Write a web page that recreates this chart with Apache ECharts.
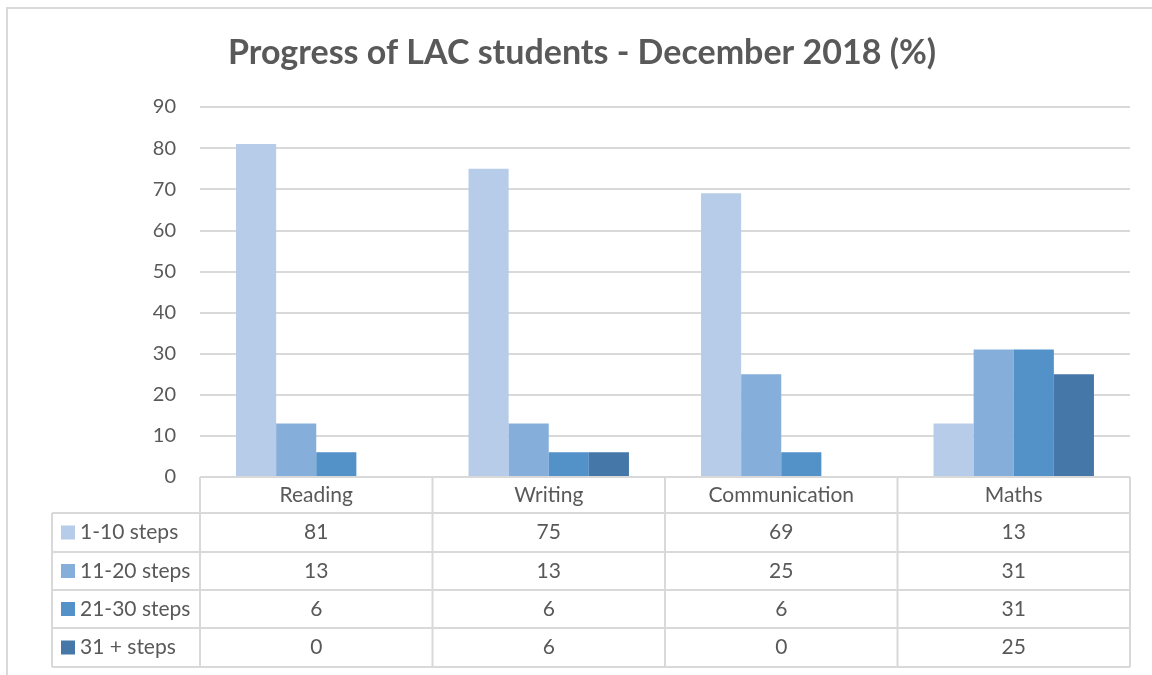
<!DOCTYPE html>
<html>
<head>
    <meta charset="utf-8">
    <script src="https://cdn.jsdelivr.net/npm/echarts@6/dist/echarts.min.js"></script>
    <style>
        body { margin: 0; background: #fff; }
    </style>
</head>
<body>
<div id="main" style="width: 1152px;height: 675px;"></div>
<script type="text/javascript">
    // data
    var categories = ['Reading', 'Writing', 'Communication', 'Maths'];
    var seriesNames = ['1-10 steps', '11-20 steps', '21-30 steps', '31 + steps'];
    var steps1to10 = [81, 75, 69, 13];
    var steps11to20 = [13, 13, 25, 31];
    var steps21to30 = [6, 6, 6, 31];
    var steps31plus = [0, 6, 0, 25];
    var colors = ['#b7cce8', '#85aedb', '#5391c9', '#4578a8'];

    var allSeries = [steps1to10, steps11to20, steps21to30, steps31plus];

    // layout
    var gridLeft = 200, gridRight = 1130, gridTop = 107, gridBottom = 477;
    var tableLeft = 52;
    var rowLines = [477, 513, 552, 590, 628, 667];
    var lineColor = '#d9d9d9';
    var textColor = '#595959';
    var fontFam = 'Lato, "Open Sans", sans-serif';
    var cellFont = '21px ' + fontFam;

    var myChart = echarts.init(document.getElementById('main'));

    var graphic = [];
    // outer chart area border
    graphic.push({
        type: 'rect', shape: {x: 7, y: 8, width: 1160, height: 700},
        style: {fill: null, stroke: lineColor, lineWidth: 2}, silent: true, z: -1
    });

    var catW = (gridRight - gridLeft) / categories.length;
    function hline(x1, x2, y) {
        graphic.push({type: 'line', shape: {x1: x1, y1: y, x2: x2, y2: y},
            style: {stroke: lineColor, lineWidth: 2}, z: 10});
    }
    function vline(x, y1, y2) {
        graphic.push({type: 'line', shape: {x1: x, y1: y1, x2: x, y2: y2},
            style: {stroke: lineColor, lineWidth: 2}, z: 10});
    }
    // table grid lines
    hline(gridLeft, gridRight, rowLines[0]);
    for (var r = 1; r < rowLines.length; r++) hline(tableLeft, gridRight, rowLines[r]);
    vline(tableLeft, rowLines[1], rowLines[rowLines.length - 1]);
    for (var c = 0; c <= categories.length; c++) {
        vline(gridLeft + c * catW, rowLines[0], rowLines[rowLines.length - 1]);
    }
    // header texts
    for (var c = 0; c < categories.length; c++) {
        graphic.push({type: 'text', x: gridLeft + (c + 0.5) * catW, y: (rowLines[0] + rowLines[1]) / 2,
            style: {text: categories[c], fill: textColor, font: cellFont,
                align: 'center', verticalAlign: 'middle'}});
    }
    // rows
    for (var s = 0; s < allSeries.length; s++) {
        var yc = (rowLines[s + 1] + rowLines[s + 2]) / 2;
        graphic.push({type: 'rect', shape: {x: 61, y: yc - 7, width: 14, height: 14},
            style: {fill: colors[s]}});
        graphic.push({type: 'text', x: 80, y: yc,
            style: {text: seriesNames[s], fill: textColor, font: cellFont,
                align: 'left', verticalAlign: 'middle'}});
        for (var c = 0; c < categories.length; c++) {
            graphic.push({type: 'text', x: gridLeft + (c + 0.5) * catW, y: yc,
                style: {text: String(allSeries[s][c]), fill: textColor, font: cellFont,
                    align: 'center', verticalAlign: 'middle'}});
        }
    }

    var series = [];
    for (var s = 0; s < allSeries.length; s++) {
        series.push({
            name: seriesNames[s],
            type: 'bar',
            data: allSeries[s],
            barGap: '0%',
            barCategoryGap: '31%',
            itemStyle: {color: colors[s]}
        });
    }

    var option = {
        animation: false,
        title: {
            text: 'Progress of LAC students - December 2018 (%)',
            left: 223,
            top: 31,
            textStyle: {color: textColor, fontSize: 34, fontWeight: 'bold', fontFamily: fontFam}
        },
        grid: {
            left: gridLeft, right: 1152 - gridRight, top: gridTop, bottom: 675 - gridBottom,
            containLabel: false
        },
        xAxis: {
            type: 'category',
            data: categories,
            axisLine: {show: false},
            axisTick: {show: false},
            axisLabel: {show: false}
        },
        yAxis: {
            type: 'value',
            min: 0, max: 90, interval: 10,
            axisLine: {show: false},
            axisTick: {show: false},
            axisLabel: {color: textColor, fontSize: 20, fontFamily: fontFam, margin: 24},
            splitLine: {lineStyle: {color: lineColor, width: 2}}
        },
        graphic: graphic,
        series: series
    };

    myChart.setOption(option);
</script>
</body>
</html>
